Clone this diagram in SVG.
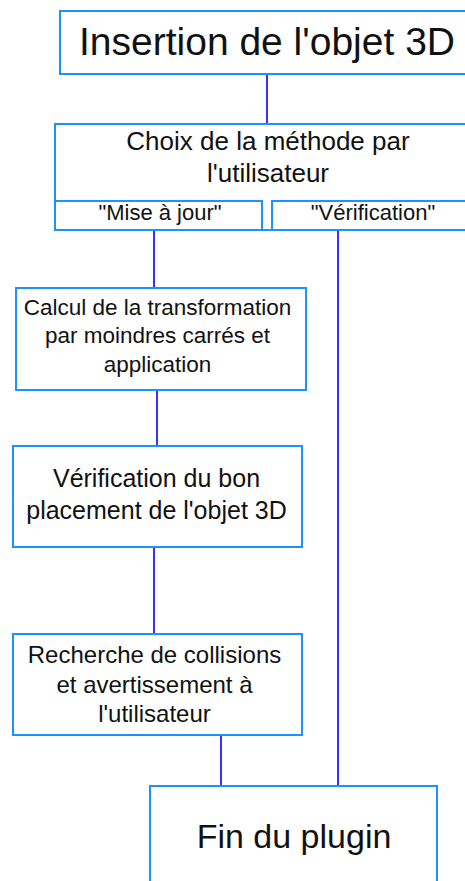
<svg xmlns="http://www.w3.org/2000/svg" width="465" height="881" viewBox="0 0 465 881">
<style>
.box{fill:#ffffff;stroke:#1E90FF;stroke-width:2}
.t{font-family:"Liberation Sans",Arial,sans-serif;fill:#111111;text-anchor:middle}
.c{stroke:#3333FF;stroke-width:2;fill:none}
</style>
<rect width="465" height="881" fill="#ffffff"/>
<g id="connectors">
<line class="c" x1="267" y1="74" x2="267" y2="124"/>
<line class="c" x1="154" y1="230" x2="154" y2="288"/>
<line class="c" x1="157" y1="390" x2="157" y2="446"/>
<line class="c" x1="154" y1="547" x2="154" y2="634"/>
<line class="c" x1="221" y1="735" x2="221" y2="786"/>
<line class="c" x1="338" y1="230" x2="338" y2="786"/>
</g>
<g id="insertion">
<rect class="box" x="60" y="11" width="420" height="63"/>
<text class="t" x="267" y="55" font-size="39">Insertion de l'objet 3D</text>
</g>
<g id="choix">
<rect class="box" x="55" y="124" width="430" height="106"/>
<text class="t" x="268" y="150" font-size="26">Choix de la méthode par</text>
<text class="t" x="268" y="182" font-size="26">l'utilisateur</text>
</g>
<g id="miseajour">
<rect class="box" x="55" y="201" width="207" height="29"/>
<text class="t" x="160" y="220" font-size="22">"Mise à jour"</text>
</g>
<g id="verif-option">
<rect class="box" x="272" y="201" width="213" height="29"/>
<text class="t" x="373" y="220" font-size="22">"Vérification"</text>
</g>
<g id="calcul">
<rect class="box" x="16" y="288" width="290" height="102"/>
<text class="t" x="157.5" y="315" font-size="22.5">Calcul de la transformation</text>
<text class="t" x="157.5" y="343" font-size="22.5">par moindres carrés et</text>
<text class="t" x="157.5" y="372" font-size="22.5">application</text>
</g>
<g id="verification">
<rect class="box" x="13" y="446" width="289" height="101"/>
<text class="t" x="156.5" y="487" font-size="25">Vérification du bon</text>
<text class="t" x="156.5" y="519" font-size="25">placement de l'objet 3D</text>
</g>
<g id="recherche">
<rect class="box" x="13" y="634" width="289" height="101"/>
<text class="t" x="154.5" y="663" font-size="24">Recherche de collisions</text>
<text class="t" x="154.5" y="693" font-size="24">et avertissement à</text>
<text class="t" x="154.5" y="722" font-size="24">l'utilisateur</text>
</g>
<g id="fin">
<rect class="box" x="150" y="786" width="287" height="110"/>
<text class="t" x="294" y="848" font-size="34">Fin du plugin</text>
</g>
</svg>
